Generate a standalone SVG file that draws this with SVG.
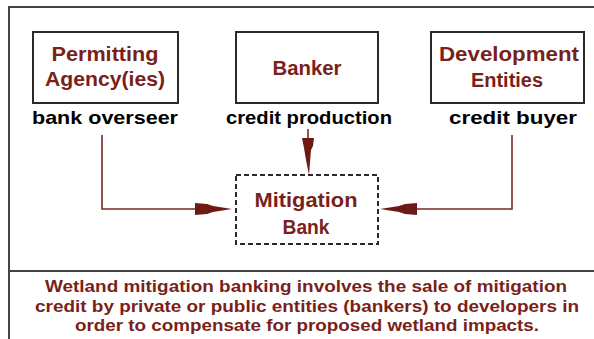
<svg xmlns="http://www.w3.org/2000/svg" width="594" height="339" viewBox="0 0 594 339">
<style>
.frame{stroke:#444;stroke-width:2;fill:none}
.box{fill:#fff;stroke:#2a2a2a;stroke-width:2}
.dbox{fill:#fff;stroke:#2a2a2a;stroke-width:2;stroke-dasharray:5 3}
.title{font-family:"Liberation Sans",Arial,sans-serif;font-size:20px;font-weight:bold;fill:#7a1f1a;text-anchor:middle}
.lab{font-family:"Liberation Sans",Arial,sans-serif;font-size:19px;font-weight:bold;fill:#000;text-anchor:middle}
.foot{font-family:"Liberation Sans",Arial,sans-serif;font-size:16px;font-weight:bold;fill:#7a1f1a;text-anchor:middle}
.conn{stroke:#7a2a24;stroke-width:1.6;fill:none}
.head{fill:#6e1a14;stroke:none}
</style>
<rect width="594" height="339" fill="#fff"/>
<g id="frame">
<path class="frame" d="M9,339 V7 H594"/>
<path class="frame" d="M9,271 H594"/>
</g>
<g id="connectors">
<path class="conn" d="M102,135 V209 H196"/>
<polygon class="head" points="195,203 207,204 213,206 232,209 213,212 207,214 195,215"/>
<path class="conn" d="M512,135 V209 H416"/>
<polygon class="head" points="417,203 405,204 399,206 380,209 399,212 405,214 417,215"/>
<path class="conn" d="M308,129 V140"/>
<polygon class="head" points="302,138 314,138 313,146 311,150 309,175 306,160 304,148"/>
</g>
<g id="permitting">
<rect class="box" x="33" y="32" width="145" height="71"/>
<text class="title" x="105" y="61" textLength="107" lengthAdjust="spacingAndGlyphs">Permitting</text>
<text class="title" x="105" y="86" textLength="120" lengthAdjust="spacingAndGlyphs">Agency(ies)</text>
<text class="lab" x="105" y="124" textLength="146" lengthAdjust="spacingAndGlyphs">bank overseer</text>
</g>
<g id="banker">
<rect class="box" x="236" y="32" width="142" height="71"/>
<text class="title" x="307" y="75" textLength="69" lengthAdjust="spacingAndGlyphs">Banker</text>
<text class="lab" x="309" y="124" textLength="166" lengthAdjust="spacingAndGlyphs">credit production</text>
</g>
<g id="development">
<rect class="box" x="431" y="32" width="153" height="71"/>
<text class="title" x="509" y="61" textLength="140" lengthAdjust="spacingAndGlyphs">Development</text>
<text class="title" x="507" y="87" textLength="72" lengthAdjust="spacingAndGlyphs">Entities</text>
<text class="lab" x="513" y="124" textLength="128" lengthAdjust="spacingAndGlyphs">credit buyer</text>
</g>
<g id="mitigation-bank">
<rect class="dbox" x="236" y="175" width="142" height="69"/>
<text class="title" x="306" y="207" textLength="103" lengthAdjust="spacingAndGlyphs">Mitigation</text>
<text class="title" x="306" y="234" textLength="47" lengthAdjust="spacingAndGlyphs">Bank</text>
</g>
<g id="caption">
<text class="foot" x="306" y="292" textLength="522" lengthAdjust="spacingAndGlyphs">Wetland mitigation banking involves the sale of mitigation</text>
<text class="foot" x="307" y="312" textLength="544" lengthAdjust="spacingAndGlyphs">credit by private or public entities (bankers) to developers in</text>
<text class="foot" x="307" y="331" textLength="464" lengthAdjust="spacingAndGlyphs">order to compensate for proposed wetland impacts.</text>
</g>
</svg>
